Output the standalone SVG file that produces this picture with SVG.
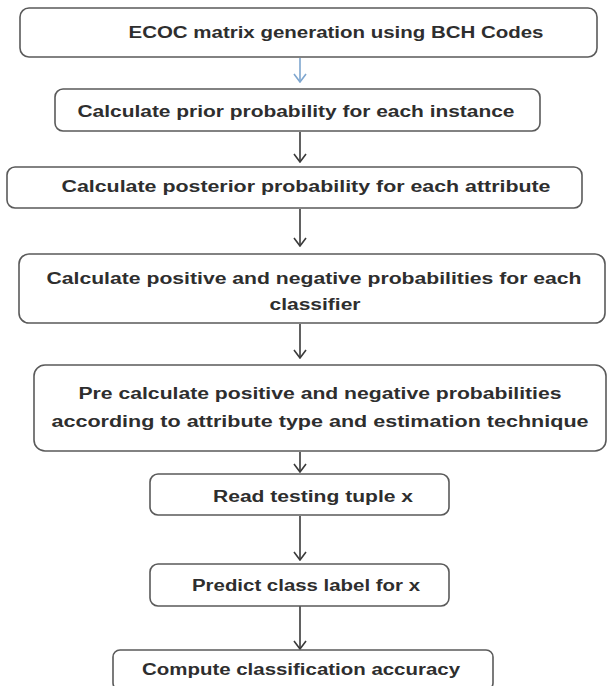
<svg xmlns="http://www.w3.org/2000/svg" width="608" height="686" viewBox="0 0 608 686">
<style>
.box{fill:#fff;stroke:#5a5a5a;stroke-width:1.6}
.t{font-family:"Liberation Sans",Arial,sans-serif;font-weight:bold;font-size:16px;fill:#2e2e2e;text-anchor:middle}
.c{stroke:#3a3a3a;stroke-width:1.6;fill:none}
</style>
<defs>
<marker id="ah" markerWidth="10" markerHeight="14" refX="9" refY="7" orient="auto" markerUnits="userSpaceOnUse" viewBox="0 0 10 14"><path d="M1,1 L9,7 L1,13" fill="none" stroke="#3a3a3a" stroke-width="1.6"/></marker>
<marker id="ahb" markerWidth="10" markerHeight="14" refX="9" refY="7" orient="auto" markerUnits="userSpaceOnUse" viewBox="0 0 10 14"><path d="M1,1 L9,7 L1,13" fill="none" stroke="#7ea6cf" stroke-width="1.6"/></marker>
</defs>
<rect width="608" height="686" fill="#fff"/>
<g id="connectors">
<line x1="300" y1="58" x2="300" y2="82" stroke="#7ea6cf" stroke-width="1.6" marker-end="url(#ahb)"/>
<line class="c" x1="300" y1="132" x2="300" y2="162" marker-end="url(#ah)"/>
<line class="c" x1="300" y1="209" x2="300" y2="246" marker-end="url(#ah)"/>
<line class="c" x1="300" y1="324" x2="300" y2="358" marker-end="url(#ah)"/>
<line class="c" x1="300" y1="452" x2="300" y2="472" marker-end="url(#ah)"/>
<line class="c" x1="300" y1="516" x2="300" y2="560" marker-end="url(#ah)"/>
<line class="c" x1="300" y1="606" x2="300" y2="649" marker-end="url(#ah)"/>
</g>
<g id="n1"><rect class="box" x="20" y="8" width="577" height="49" rx="9"/><text class="t" x="336" y="38" textLength="415" lengthAdjust="spacingAndGlyphs">ECOC matrix generation using BCH Codes</text></g>
<g id="n2"><rect class="box" x="55" y="89" width="485" height="42" rx="8"/><text class="t" x="296" y="117" textLength="437" lengthAdjust="spacingAndGlyphs">Calculate prior probability for each instance</text></g>
<g id="n3"><rect class="box" x="7" y="167" width="575" height="41" rx="8"/><text class="t" x="306" y="192" textLength="489" lengthAdjust="spacingAndGlyphs">Calculate posterior probability for each attribute</text></g>
<g id="n4"><rect class="box" x="19" y="254" width="586" height="69" rx="10"/><text class="t" x="314" y="284" textLength="535" lengthAdjust="spacingAndGlyphs">Calculate positive and negative probabilities for each</text><text class="t" x="315" y="310" textLength="91" lengthAdjust="spacingAndGlyphs">classifier</text></g>
<g id="n5"><rect class="box" x="34" y="365" width="572" height="86" rx="11"/><text class="t" x="320" y="399" textLength="483" lengthAdjust="spacingAndGlyphs">Pre calculate positive and negative probabilities</text><text class="t" x="320" y="427" textLength="537" lengthAdjust="spacingAndGlyphs">according to attribute type and estimation technique</text></g>
<g id="n6"><rect class="box" x="150" y="474" width="299" height="41" rx="8"/><text class="t" x="313" y="502" textLength="200" lengthAdjust="spacingAndGlyphs">Read testing tuple x</text></g>
<g id="n7"><rect class="box" x="150" y="564" width="299" height="42" rx="8"/><text class="t" x="306" y="591" textLength="228" lengthAdjust="spacingAndGlyphs">Predict class label for x</text></g>
<g id="n8"><rect class="box" x="113" y="650" width="380" height="40" rx="7"/><text class="t" x="301" y="675" textLength="318" lengthAdjust="spacingAndGlyphs">Compute classification accuracy</text></g>
</svg>
